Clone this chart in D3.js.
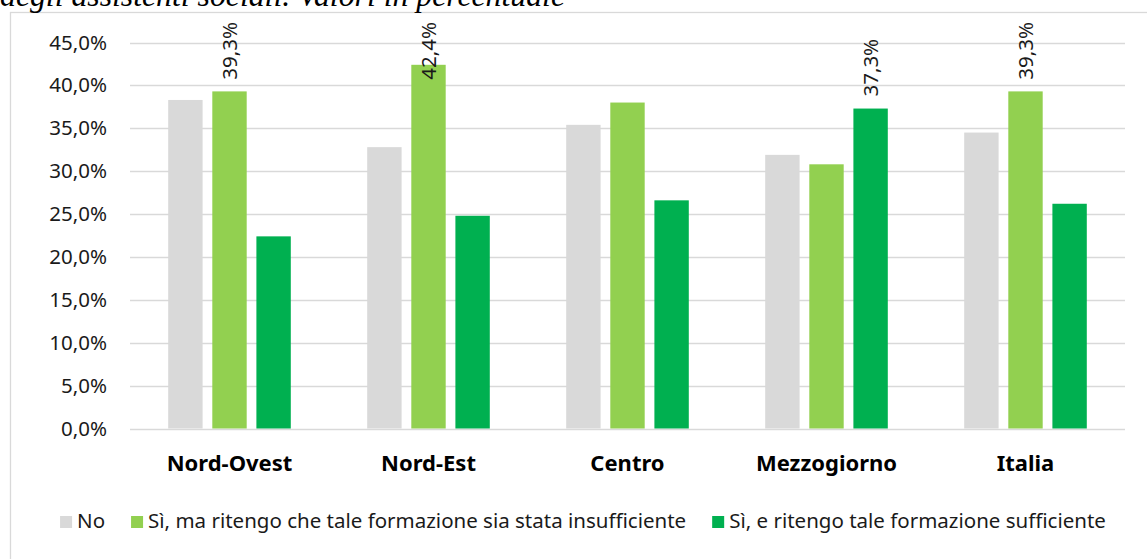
<!DOCTYPE html>
<html>
<head>
<meta charset="utf-8">
<script src="https://cdn.jsdelivr.net/npm/d3@7"></script>
<style>
  body { margin: 0; background: #fff; }
  svg { display: block; }
  text { font-family: "Noto Sans", sans-serif; fill: #1a1a1a; }
</style>
</head>
<body>
<svg width="1147" height="559"></svg>
<script>
var categories = ["Nord-Ovest", "Nord-Est", "Centro", "Mezzogiorno", "Italia"];
var seriesNames = ["No", "Sì, ma ritengo che tale formazione sia stata insufficiente", "Sì, e ritengo tale formazione sufficiente"];
var seriesColors = ["#d9d9d9", "#92d050", "#00b050"];
var no = [38.3, 32.8, 35.4, 31.9, 34.5];
var insufficiente = [39.3, 42.4, 38.0, 30.8, 39.3];
var sufficiente = [22.4, 24.8, 26.6, 37.3, 26.2];
var yTicks = [0, 5, 10, 15, 20, 25, 30, 35, 40, 45];
// bars that carry a value label: [category index, series index]
var labelled = [[0, 1], [1, 1], [3, 2], [4, 1]];
var title = "degli assistenti sociali. Valori in percentuale";

var values = [no, insufficiente, sufficiente];

var svg = d3.select("svg");
var it = d3.formatLocale({decimal: ",", thousands: ".", grouping: [3], currency: ["€", ""]});
var pct = function(v) { return it.format(".1f")(v) + "%"; };

// outer frame of the chart object
svg.append("rect")
  .attr("x", 10.5).attr("y", 12.5)
  .attr("width", 1160).attr("height", 580)
  .attr("fill", "#fff").attr("stroke", "#d9d9d9").attr("stroke-width", 1.3);

// title line, cut off at the top as in the source picture
var t = svg.append("text")
  .attr("x", 0).attr("y", 6)
  .style("font-family", "'Liberation Serif', serif")
  .style("font-style", "italic")
  .style("font-size", "28px")
  .style("fill", "#000")
  .text(title);
t.style("font-size", (28 * 565 / t.node().getComputedTextLength()) + "px");

var x0 = d3.scaleBand().domain(categories).range([130, 1125]);
var x1 = d3.scaleBand().domain(d3.range(3))
  .range([x0.bandwidth() * 0.192, x0.bandwidth() * 0.808])
  .paddingInner(0.22);
var y = d3.scaleLinear().domain([0, 45]).range([428.5, 42.5]);

var grid = svg.append("g");
grid.selectAll("line")
  .data(yTicks)
  .enter()
  .append("line")
    .attr("x1", 130).attr("x2", 1125)
    .attr("y1", function(d) {return Math.round(y(d)) + 0.5;})
    .attr("y2", function(d) {return Math.round(y(d)) + 0.5;})
    .attr("stroke", "#d9d9d9").attr("stroke-width", 1.4);

var yAxis = svg.append("g")
  .attr("transform", "translate(130,0)")
  .call(d3.axisLeft(y).tickValues(yTicks).tickSize(0).tickPadding(23)
    .tickFormat(function(d) {return pct(d);}));
yAxis.select(".domain").remove();
yAxis.selectAll("text")
  .style("font-family", "'Noto Sans', sans-serif")
  .style("font-size", "20.5px")
  .attr("fill", "#1a1a1a");

var groups = svg.selectAll("g.cat")
  .data(categories)
  .enter()
  .append("g")
    .attr("class", "cat")
    .attr("transform", function(d) {return "translate(" + x0(d) + ",0)";});

groups.selectAll("rect")
  .data(function(d, i) {return values.map(function(s, j) {return {s: j, v: s[i]};});})
  .enter()
  .append("rect")
    .attr("x", function(d) {return x1(d.s);})
    .attr("width", x1.bandwidth())
    .attr("y", function(d) {return y(d.v);})
    .attr("height", function(d) {return y(0) - y(d.v);})
    .attr("fill", function(d) {return seriesColors[d.s];});

// value labels, rotated; kept inside the plot area like the original
var labels = svg.selectAll("text.val")
  .data(labelled)
  .enter()
  .append("text")
    .attr("class", "val")
    .style("font-size", "20.5px")
    .text(function(d) {return pct(values[d[1]][d[0]]);});
labels.attr("transform", function(d) {
  var cx = x0(categories[d[0]]) + x1(d[1]) + x1.bandwidth() / 2 + 7.5;
  var len = this.getComputedTextLength();
  var by = Math.max(y(values[d[1]][d[0]]) - 12, 22 + len);
  return "translate(" + cx + "," + by + ") rotate(-90)";
});

svg.selectAll("text.cat")
  .data(categories)
  .enter()
  .append("text")
    .attr("class", "cat")
    .attr("x", function(d) {return x0(d) + x0.bandwidth() / 2;})
    .attr("y", 471)
    .attr("text-anchor", "middle")
    .style("font-size", "22px")
    .style("font-weight", "bold")
    .style("fill", "#000")
    .text(function(d) {return d;});

// legend, laid out left to right and centred
var legend = svg.append("g").attr("transform", "translate(0,528)");
var items = legend.selectAll("g")
  .data(seriesNames)
  .enter()
  .append("g");
items.append("rect")
  .attr("y", -12).attr("width", 12).attr("height", 12)
  .attr("fill", function(d, i) {return seriesColors[i];});
items.append("text")
  .attr("x", 17)
  .style("font-size", "20.5px")
  .text(function(d) {return d;});
var pos = 0, starts = [];
items.each(function() {
  starts.push(pos);
  pos += 17 + d3.select(this).select("text").node().getComputedTextLength() + 26;
});
var total = pos - 26;
var left = 583 - total / 2;
items.attr("transform", function(d, i) {return "translate(" + (left + starts[i]) + ",0)";});
</script>
</body>
</html>
